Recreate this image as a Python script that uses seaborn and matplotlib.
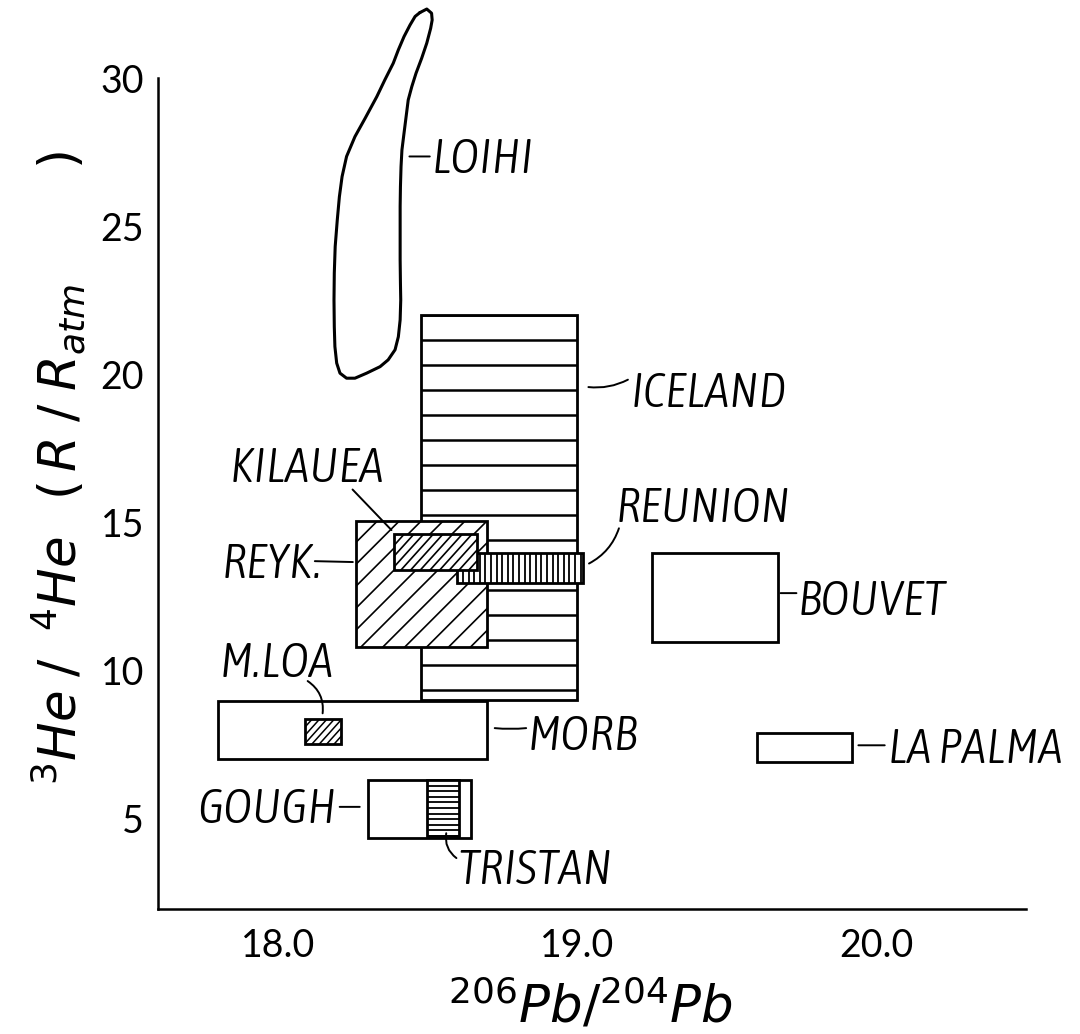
import numpy as np
import matplotlib
matplotlib.use("Agg")
import matplotlib.pyplot as plt
import seaborn as sns
from matplotlib import font_manager as fm
from matplotlib.patches import Rectangle
from matplotlib.collections import LineCollection
from matplotlib.transforms import IdentityTransform

# ---- data: field extents in 206Pb/204Pb (x) and 3He/4He in R/Ratm (y) ----
fields = ["ICELAND", "REYK.", "REUNION", "KILAUEA", "MORB",
          "M.LOA", "GOUGH", "TRISTAN", "BOUVET", "LA PALMA"]
pb_lo = [18.48, 18.26, 18.60, 18.39, 17.80, 18.09, 18.30, 18.50, 19.25, 19.60]
pb_hi = [19.00, 18.70, 19.02, 18.665, 18.70, 18.21, 18.645, 18.605, 19.67, 19.92]
he_lo = [9.0, 10.8, 12.95, 13.4, 7.0, 7.5, 4.35, 4.4, 10.95, 6.9]
he_hi = [22.0, 15.05, 13.96, 14.6, 8.95, 8.35, 6.3, 6.3, 13.95, 7.87]

# Loihi field outline (closed curve, clockwise from the top)
loihi_pb = [18.475, 18.498, 18.514, 18.516, 18.511, 18.498, 18.481, 18.462,
            18.448, 18.436, 18.429, 18.422, 18.415, 18.412, 18.410, 18.409,
            18.409, 18.409, 18.410, 18.411, 18.409, 18.403, 18.392, 18.369,
            18.342, 18.297, 18.258, 18.230, 18.208, 18.197, 18.191, 18.189,
            18.188, 18.189, 18.192, 18.199, 18.206, 18.215, 18.230, 18.258,
            18.292, 18.331, 18.358, 18.386, 18.403, 18.422, 18.442, 18.459]
loihi_he = [32.22, 32.34, 32.20, 31.97, 31.69, 31.19, 30.68, 30.17,
            29.72, 29.27, 28.71, 28.15, 27.58, 27.02, 26.34, 25.67,
            24.77, 23.87, 23.08, 22.51, 21.84, 21.27, 20.83, 20.49,
            20.26, 20.04, 19.87, 19.87, 20.04, 20.38, 20.94, 21.61,
            22.51, 23.42, 24.32, 25.22, 26.00, 26.68, 27.36, 28.03,
            28.65, 29.38, 29.95, 30.51, 30.96, 31.41, 31.80, 32.09]

x_ticks = [18.0, 19.0, 20.0, 20.5]
x_ticklabels = ["18.0", "19.0", "20.0", ""]
y_ticks = [5, 10, 15, 20, 25, 30]
y_ticklabels = ["5", "10", "15", "20", "25", "30"]

# ---- styling / layout ----
# hatch: (angle in degrees, spacing in px, line width)
hatch_style = {
    "ICELAND": (0, 25.0, 1.8),
    "REYK.": (45, 15.5, 1.2),
    "REUNION": (90, 5.6, 1.3),
    "KILAUEA": (48, 7.2, 1.2),
    "M.LOA": (48, 5.5, 1.1),
    "TRISTAN": (0, 5.6, 1.3),
}
draw_order = ["ICELAND", "REYK.", "REUNION", "KILAUEA", "MORB", "M.LOA",
              "GOUGH", "TRISTAN", "BOUVET", "LA PALMA"]

# label: text anchor (x, baseline y, ha), leader start, leader end, curvature
labels = {
    "LOIHI": ((18.516, 26.80, "left"), (18.44, 27.36), (18.508, 27.36), 0.0),
    "ICELAND": ((19.18, 18.91, "left"), (19.038, 19.57), (19.17, 19.82), 0.15),
    "REUNION": ((19.13, 15.02, "left"), (19.04, 13.61), (19.14, 14.80), 0.2),
    "BOUVET": ((19.736, 11.87, "left"), (19.68, 12.61), (19.733, 12.61), 0.0),
    "LA PALMA": ((20.04, 6.87, "left"), (19.94, 7.47), (20.028, 7.47), 0.0),
    "MORB": ((18.835, 7.31, "left"), (18.725, 8.05), (18.83, 8.05), 0.05),
    "GOUGH": ((18.196, 4.83, "right"), (18.207, 5.39), (18.274, 5.39), 0.0),
    "TRISTAN": ((18.60, 2.78, "left"), (18.563, 4.50), (18.597, 3.66), 0.3),
    "M.LOA": ((17.806, 9.78, "left"), (18.10, 9.64), (18.15, 8.55), -0.3),
    "REYK.": ((17.812, 13.11, "left"), (18.124, 13.69), (18.251, 13.66), 0.0),
    "KILAUEA": ((17.84, 16.37, "left"), (18.25, 16.11), (18.38, 14.74), 0.0),
}

sns.set_theme(style="white")
plt.rcParams["font.family"] = ["Lato", "DejaVu Sans"]
plt.rcParams["mathtext.fontset"] = "dejavusans"


def _weight(f):
    w = f.weight
    return w if isinstance(w, (int, float)) else fm.weight_dict.get(w, 400)


def pick_label_font():
    """Prefer a light/regular narrow italic sans for the field names."""
    italic = ("italic", "oblique")
    for name in ["Liberation Sans Narrow", "Arial Narrow", "Nimbus Sans Narrow"]:
        for f in fm.fontManager.ttflist:
            if f.name == name and f.style in italic and _weight(f) <= 400:
                return fm.FontProperties(fname=f.fname)
    cands = [f for f in fm.fontManager.ttflist
             if f.stretch in ("condensed", "semi-condensed", "extra-condensed")
             and f.style in italic and _weight(f) <= 400]
    if cands:
        cands.sort(key=lambda f: (abs(_weight(f) - 320), f.name))
        return fm.FontProperties(fname=cands[0].fname)
    return fm.FontProperties(family="DejaVu Sans", style="italic")


W, H = 1080, 1034
fig = plt.figure(figsize=(W / 100, H / 100), dpi=100)
fig.patch.set_facecolor("white")
ax = fig.add_axes([158 / W, 1 - 909 / H, (1026 - 158) / W, (909 - 4.3) / H])
ax.set_facecolor("white")
ax.set_xlim(17.6, 20.5)
ax.set_ylim(1.94, 32.5)

# size the field-name font so a word spans the lettering width
label_fp = pick_label_font()
renderer = fig.canvas.get_renderer()
probe = fig.text(0, 0, "ICELAND", fontproperties=label_fp, fontsize=31.5)
probe_w = probe.get_window_extent(renderer).width
probe.remove()
label_size = 31.5 * 156.0 / probe_w

edge_lw = 2.0


def add_hatch(patch, angle, spacing, lw):
    """Draw parallel lines (in pixel space) clipped to a patch."""
    verts = patch.get_verts()
    x0, y0 = verts.min(axis=0)
    x1, y1 = verts.max(axis=0)
    a = np.deg2rad(angle)
    d = np.array([np.cos(a), np.sin(a)])
    n = np.array([-np.sin(a), np.cos(a)])
    corners = np.array([[x0, y0], [x0, y1], [x1, y0], [x1, y1]])
    proj = corners @ n
    L = np.hypot(x1 - x0, y1 - y0) + 10
    mid = corners.mean(axis=0)
    mid_off = mid - (mid @ n) * n
    offs = np.arange(proj.max(), proj.min() - 1e-6, -spacing)
    segs = [[mid_off + k * n - L * d, mid_off + k * n + L * d] for k in offs]
    lc = LineCollection(segs, colors="black", linewidths=lw,
                        transform=IdentityTransform(), zorder=patch.get_zorder())
    ax.add_collection(lc)
    lc.set_clip_path(patch)


for z, name in enumerate(draw_order):
    i = fields.index(name)
    rect = Rectangle((pb_lo[i], he_lo[i]), pb_hi[i] - pb_lo[i], he_hi[i] - he_lo[i],
                     facecolor="white", edgecolor="none", zorder=2 + z)
    ax.add_patch(rect)
    if name in hatch_style:
        add_hatch(rect, *hatch_style[name])
    ax.add_patch(Rectangle((pb_lo[i], he_lo[i]), pb_hi[i] - pb_lo[i],
                           he_hi[i] - he_lo[i], facecolor="none",
                           edgecolor="black", lw=edge_lw, zorder=2 + z))

# Loihi outline
lx = np.r_[loihi_pb, loihi_pb[0]]
ly = np.r_[loihi_he, loihi_he[0]]
sns.lineplot(x=lx, y=ly, sort=False, estimator=None, color="black",
             lw=2.2, ax=ax, zorder=20)

# labels with leader lines
for name, ((tx, ty, ha), p0, p1, rad) in labels.items():
    ax.text(tx, ty, name, ha=ha, va="baseline", fontproperties=label_fp,
            fontsize=label_size, color="black", zorder=30)
    ax.annotate("", xy=p1, xytext=p0,
                arrowprops=dict(arrowstyle="-", lw=1.4, color="black",
                                shrinkA=0, shrinkB=0,
                                connectionstyle=f"arc3,rad={rad}"),
                zorder=30)

# axes
for s in ["top", "right"]:
    ax.spines[s].set_visible(False)
for s in ["left", "bottom"]:
    ax.spines[s].set_color("black")
    ax.spines[s].set_linewidth(1.8)
ax.spines["left"].set_bounds(1.94, 30)

ax.set_xticks(x_ticks)
ax.set_xticklabels(x_ticklabels)
ax.set_yticks(y_ticks)
ax.set_yticklabels(y_ticklabels)
ax.tick_params(axis="both", direction="in", color="black", labelcolor="black",
               width=1.3, labelsize=27)
ax.tick_params(axis="x", length=12, pad=14)
ax.tick_params(axis="y", length=14, pad=10)
ax.grid(False)

fig.text(58 / W, 1 - 468 / H,
         r"$^{3}He\;/\;\;^{4}He\;\;\,(\,R\;/\;R_{atm}\quad\quad\;)$",
         rotation=90, ha="center", va="center", fontsize=37, color="black")
fig.text(591 / W, 1 - 1004 / H, r"$^{206}Pb/^{204}Pb$",
         ha="center", va="center", fontsize=37, color="black")

fig.savefig("out.png", dpi=100, facecolor="white")
